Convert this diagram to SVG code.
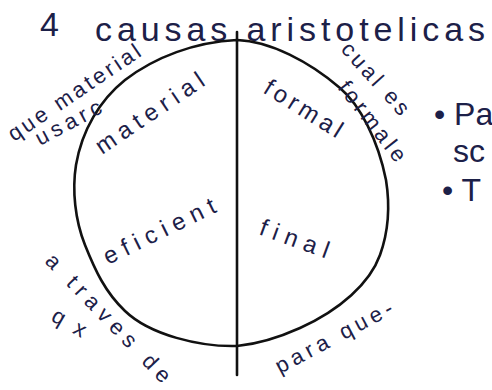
<svg xmlns="http://www.w3.org/2000/svg" width="492" height="390" viewBox="0 0 492 390">
<style>
.h{font-family:"Liberation Sans",Arial,sans-serif;fill:#1c2048}
.t{font-size:34px}
.m{font-size:24px}
.s{font-size:22px}
.b{font-size:32px}
.ln{fill:none;stroke:#111;stroke-width:2.6;stroke-linecap:round}
</style>
<rect width="492" height="390" fill="#fff"/>
<g id="title">
<text class="h t" x="40" y="36">4</text>
<text class="h t" x="95" y="41" textLength="390" lengthAdjust="spacing">causas aristotelicas</text>
</g>
<g id="connectors">
<path class="ln" d="M237,40 C270,41 310,62 340,88 C360,105 378,140 386,180 C390,205 389,230 380,255 C370,283 340,310 300,328 C280,337 258,344 237,346 C200,347 150,335 125,311 C105,292 95,270 85,245 C75,220 72,190 76,165 C82,130 100,100 125,80 C155,57 195,42 237,40 Z"/>
<line class="ln" x1="237" y1="32" x2="237" y2="375"/>
</g>
<g id="material">
<text class="h m" transform="translate(102,155) rotate(-34)" textLength="126" lengthAdjust="spacing">material</text>
</g>
<g id="formal">
<text class="h m" transform="translate(262,92) rotate(32)" textLength="88" lengthAdjust="spacing">formal</text>
</g>
<g id="eficient">
<text class="h m" transform="translate(108,265) rotate(-26)" textLength="122" lengthAdjust="spacing">eficient</text>
</g>
<g id="final">
<text class="h m" transform="translate(258,234) rotate(20)" textLength="72" lengthAdjust="spacing">final</text>
</g>
<g id="label-material">
<text class="h s" transform="translate(14,142) rotate(-34)" textLength="155" lengthAdjust="spacing">que material</text>
<text class="h s" transform="translate(40,146) rotate(-28)" textLength="72" lengthAdjust="spacing">usarc</text>
</g>
<g id="label-formal">
<text class="h s" transform="translate(340,50) rotate(48)" textLength="90" lengthAdjust="spacing">cual es</text>
<text class="h s" transform="translate(337,88) rotate(52)" textLength="96" lengthAdjust="spacing">formale</text>
</g>
<g id="label-eficient">
<text class="h s" transform="translate(44,262) rotate(46)" textLength="170" lengthAdjust="spacing">a traves de</text>
<text class="h s" transform="translate(50,320) rotate(30)" textLength="36" lengthAdjust="spacing">qx</text>
</g>
<g id="label-final">
<text class="h s" transform="translate(280,374) rotate(-28)" textLength="130" lengthAdjust="spacing">para que-</text>
</g>
<g id="notes">
<text class="h b" x="434" y="125">• Pa</text>
<text class="h b" x="453" y="162">sc</text>
<text class="h b" x="442" y="201">• T</text>
</g>
</svg>
